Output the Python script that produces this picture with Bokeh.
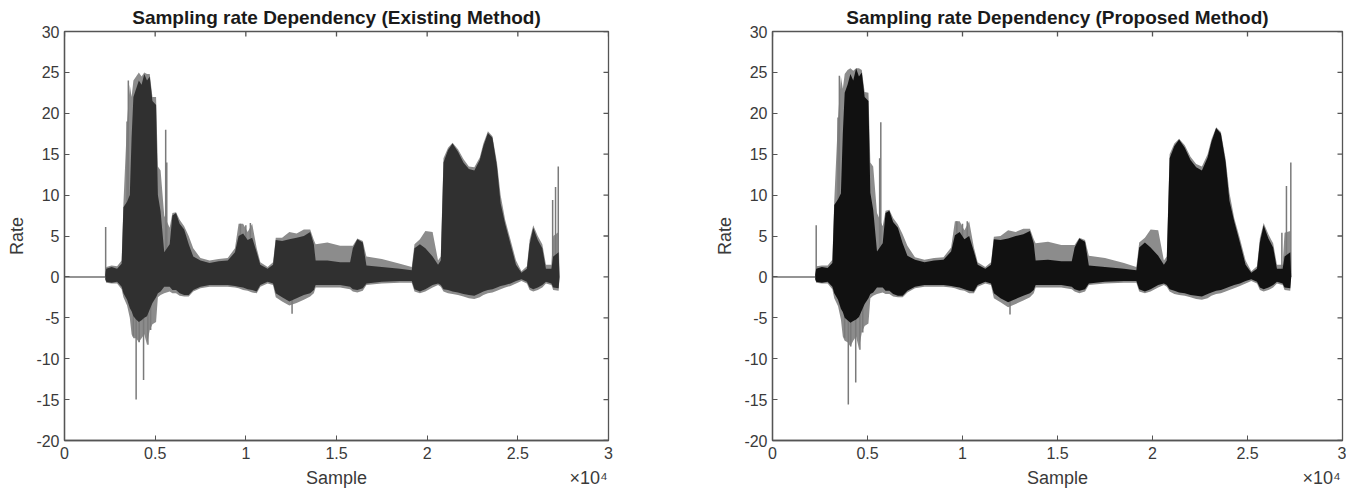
import math
from bokeh.plotting import figure
from bokeh.models import FixedTicker, LinearAxis, Range1d, Spacer
from bokeh.layouts import row
from bokeh.embed import file_html
from bokeh.resources import INLINE

# ---------------- data ----------------
env_x = [2250, 2300, 2600, 2900, 3150, 3250, 3450, 3600, 3700, 3800,
         3950, 4100, 4250, 4400, 4550, 4700, 4850, 5050, 5150, 5300,
         5500, 5800, 5950, 6150, 6350, 6600, 6850, 7100, 7500, 8000,
         8500, 9000, 9400, 9600, 9850, 10100, 10350, 10600, 10800, 11200,
         11500, 11650, 12000, 12400, 12800, 13200, 13550, 13750, 13850, 14500,
         15200, 15750, 15900, 16150, 16450, 16650, 17500, 18500, 19150, 19300,
         19600, 19900, 20300, 20600, 20750, 20900, 21150, 21400, 21700, 22000,
         22300, 22600, 22900, 23100, 23350, 23600, 23850, 24050, 24300, 24600,
         24900, 25200, 25500, 25650, 25850, 26100, 26350, 26550, 26850, 26950,
         27250, 27300]

# Existing method: dense core (upper / lower) and outer spikes (upper / lower)
ex_core_up = [0.3, 1.0, 1.2, 1.0, 1.6, 8.5, 9.2, 10.0, 17.0, 22.0,
              23.0, 24.0, 23.5, 24.8, 24.0, 24.5, 21.5, 21.0, 10.0, 8.0,
              3.0, 4.0, 7.5, 7.8, 6.5, 5.8, 4.0, 2.5, 2.0, 1.7,
              1.9, 2.0, 3.0, 5.0, 5.3, 4.5, 4.8, 3.0, 1.5, 1.0,
              1.5, 4.5, 4.4, 4.6, 4.8, 5.0, 5.5, 4.0, 2.0, 2.0,
              1.8, 1.8, 3.5, 4.6, 4.2, 1.4, 1.2, 1.0, 0.8, 3.5,
              4.0, 3.5, 2.5, 1.5, 2.0, 14.0, 15.5, 16.3, 15.3, 14.0,
              13.2, 13.0, 14.3, 16.0, 17.6, 17.0, 13.5, 9.0, 6.5, 4.0,
              1.5, 0.5, 1.0, 4.0, 6.0, 4.5, 3.5, 1.0, 1.0, 2.5,
              3.0, 0.0]
ex_core_lo = [-0.3, -0.6, -0.7, -0.6, -1.2, -2.0, -2.8, -3.8, -4.2, -4.8,
              -5.2, -5.5, -5.3, -5.0, -4.8, -4.0, -3.2, -2.5, -2.0, -1.8,
              -1.2, -1.2, -1.6, -1.6, -2.0, -2.2, -2.2, -1.6, -1.2, -1.0,
              -1.0, -1.0, -1.1, -1.2, -1.3, -1.5, -1.6, -1.8, -1.0, -0.6,
              -0.8, -2.0, -2.5, -3.0, -2.6, -2.2, -2.0, -1.6, -1.0, -1.0,
              -1.0, -1.2, -1.5, -1.6, -1.4, -0.8, -0.6, -0.5, -0.5, -1.5,
              -1.8, -1.5, -1.0, -0.8, -1.0, -1.5, -1.6, -1.8, -1.9, -2.1,
              -2.2, -2.3, -2.0, -1.8, -1.6, -1.5, -1.3, -1.1, -1.0, -0.8,
              -0.5, -0.3, -0.6, -1.3, -1.5, -1.3, -1.0, -0.6, -0.8, -1.3,
              -1.4, 0.0]
ex_outer_up = [0.3, 1.2, 1.4, 1.3, 2.0, 9.0, 19.0, 23.5, 22.0, 24.0,
               24.5, 25.0, 24.5, 25.0, 24.8, 24.8, 22.0, 22.0, 13.5, 13.0,
               7.5, 6.0, 7.8, 7.9, 7.0, 6.2, 5.0, 3.5, 2.3, 2.0,
               2.2, 2.3, 3.5, 6.5, 6.5, 5.5, 6.5, 3.5, 1.8, 1.2,
               1.8, 4.8, 4.8, 5.5, 5.3, 5.8, 5.8, 4.5, 4.0, 4.2,
               3.8, 3.8, 3.8, 4.7, 4.4, 2.5, 2.2, 1.6, 1.2, 4.0,
               4.6, 5.6, 5.5, 2.0, 2.5, 14.5, 15.8, 16.4, 15.6, 14.4,
               13.5, 13.4, 14.6, 16.3, 17.8, 17.2, 14.0, 10.0, 7.0, 4.5,
               2.0, 0.7, 1.3, 4.5, 6.3, 5.0, 4.0, 1.5, 1.5, 5.0,
               5.5, 0.0]
ex_outer_lo = [-0.3, -0.7, -0.8, -0.8, -1.5, -2.5, -3.5, -5.0, -7.0, -7.5,
               -7.5, -8.0, -7.5, -7.0, -8.3, -6.5, -5.8, -5.5, -2.5, -2.2,
               -2.0, -1.8, -2.0, -2.0, -2.3, -2.4, -2.4, -1.8, -1.4, -1.2,
               -1.2, -1.2, -1.3, -1.4, -1.6, -1.7, -1.9, -2.0, -1.2, -0.8,
               -1.0, -2.5, -3.0, -3.5, -3.2, -2.8, -2.4, -2.0, -1.3, -1.3,
               -1.3, -1.5, -1.8, -1.9, -1.7, -1.0, -0.8, -0.7, -0.7, -1.8,
               -2.0, -1.8, -1.3, -1.0, -1.2, -1.8, -2.0, -2.1, -2.2, -2.4,
               -2.6, -2.7, -2.5, -2.2, -2.0, -1.9, -1.7, -1.5, -1.3, -1.1,
               -0.8, -0.5, -0.8, -1.6, -1.8, -1.6, -1.3, -0.8, -1.0, -1.6,
               -1.7, 0.0]
ex_spike_x = [2270, 3450, 3520, 5580, 5640, 9700, 10000, 10250, 26920, 27080,
              27230, 3800, 3950, 4120, 4360, 4600, 4750, 12550]
ex_spike_v = [6.1, 19.0, 24.0, 18.0, 14.0, 6.5, 6.3, 6.6, 9.4, 11.0,
              13.5, -7.3, -15.0, -8.0, -12.6, -8.3, -6.5, -4.5]

# Proposed method
pr_core_up = [0.3, 1.0, 1.2, 1.1, 1.7, 8.8, 9.5, 10.2, 17.5, 22.5,
              23.5, 24.8, 24.0, 25.5, 24.5, 25.0, 22.0, 21.5, 10.3, 8.2,
              3.1, 4.1, 7.8, 8.1, 6.7, 6.0, 4.1, 2.6, 2.1, 1.8,
              2.0, 2.1, 3.1, 5.1, 5.5, 4.6, 5.0, 3.1, 1.5, 1.0,
              1.5, 4.6, 4.5, 4.7, 5.0, 5.2, 5.6, 4.1, 2.0, 2.1,
              1.9, 1.9, 3.6, 4.7, 4.3, 1.4, 1.2, 1.0, 0.8, 3.6,
              4.2, 3.6, 2.6, 1.5, 2.0, 14.5, 16.0, 16.8, 15.8, 14.3,
              13.4, 13.0, 14.6, 16.5, 18.2, 17.5, 14.0, 9.3, 6.8, 4.2,
              1.5, 0.5, 1.0, 4.2, 6.3, 4.7, 3.6, 1.0, 1.0, 2.5,
              3.0, 0.0]
pr_core_lo = [-0.3, -0.6, -0.7, -0.6, -1.2, -2.0, -2.8, -3.9, -4.3, -5.0,
              -5.3, -5.6, -5.4, -5.2, -4.9, -4.1, -3.3, -2.6, -2.1, -1.9,
              -1.3, -1.3, -1.7, -1.7, -2.1, -2.3, -2.3, -1.7, -1.2, -1.0,
              -1.0, -1.0, -1.1, -1.2, -1.3, -1.5, -1.7, -1.8, -1.0, -0.6,
              -0.8, -2.0, -2.6, -3.1, -2.7, -2.3, -2.0, -1.6, -1.0, -1.0,
              -1.0, -1.2, -1.5, -1.7, -1.5, -0.8, -0.6, -0.5, -0.5, -1.5,
              -1.8, -1.5, -1.0, -0.8, -1.0, -1.5, -1.7, -1.9, -2.0, -2.2,
              -2.3, -2.4, -2.1, -1.9, -1.7, -1.6, -1.4, -1.2, -1.0, -0.8,
              -0.5, -0.3, -0.6, -1.3, -1.5, -1.3, -1.0, -0.6, -0.8, -1.3,
              -1.4, 0.0]
pr_outer_up = [0.3, 1.3, 1.4, 1.4, 2.1, 9.3, 19.5, 24.5, 23.0, 24.8,
               25.3, 25.5, 25.2, 25.5, 25.5, 25.3, 22.6, 22.5, 14.0, 13.5,
               7.8, 6.2, 8.1, 8.2, 7.2, 6.4, 5.2, 3.8, 2.4, 2.1,
               2.3, 2.4, 3.6, 6.8, 6.8, 5.7, 6.8, 3.6, 1.8, 1.2,
               1.8, 4.9, 5.0, 5.7, 5.5, 5.9, 5.9, 4.6, 4.1, 4.3,
               3.9, 3.9, 3.9, 4.8, 4.5, 2.6, 2.3, 1.7, 1.2, 4.2,
               4.8, 5.8, 5.7, 2.0, 2.5, 15.0, 16.3, 16.9, 16.1, 14.7,
               13.8, 13.5, 15.0, 16.8, 18.3, 17.7, 14.4, 10.3, 7.2, 4.7,
               2.0, 0.7, 1.3, 4.7, 6.6, 5.2, 4.1, 1.5, 1.5, 5.4,
               5.6, 0.0]
pr_outer_lo = [-0.3, -0.7, -0.8, -0.8, -1.5, -2.6, -3.6, -5.2, -7.3, -7.8,
               -8.0, -8.5, -7.8, -7.3, -8.8, -6.8, -6.0, -5.7, -2.6, -2.3,
               -2.1, -1.9, -2.1, -2.1, -2.4, -2.5, -2.5, -1.9, -1.4, -1.2,
               -1.2, -1.2, -1.3, -1.4, -1.6, -1.7, -2.0, -2.0, -1.2, -0.8,
               -1.0, -2.6, -3.1, -3.7, -3.3, -2.9, -2.5, -2.0, -1.3, -1.3,
               -1.3, -1.5, -1.8, -2.0, -1.8, -1.0, -0.8, -0.7, -0.7, -1.8,
               -2.0, -1.8, -1.3, -1.0, -1.2, -1.8, -2.1, -2.2, -2.3, -2.5,
               -2.7, -2.8, -2.6, -2.3, -2.1, -2.0, -1.8, -1.6, -1.4, -1.1,
               -0.8, -0.5, -0.8, -1.6, -1.8, -1.6, -1.3, -0.8, -1.0, -1.6,
               -1.7, 0.0]
pr_spike_x = [2300, 3450, 3520, 5700, 5640, 9700, 10000, 10250, 26810, 27050,
              27280, 3800, 3990, 4120, 4380, 4600, 4750, 12500]
pr_spike_v = [6.3, 19.5, 24.6, 18.9, 14.5, 6.8, 6.5, 6.8, 5.4, 11.1,
              14.0, -7.5, -15.6, -8.5, -12.9, -8.9, -6.8, -4.6]

silent_x = [0, 2250]
silent_y = [0.0, 0.0]

x_ticks = [0, 5000, 10000, 15000, 20000, 25000, 30000]
x_tick_labels = ["0", "0.5", "1", "1.5", "2", "2.5", "3"]
y_ticks = [-20, -15, -10, -5, 0, 5, 10, 15, 20, 25, 30]
y_tick_labels = ["-20", "-15", "-10", "-5", "0", "5", "10", "15", "20", "25", "30"]
# second row under the x axis: axis name (centred) and the exponent note (right)
x_note_pos = [15000, 28900]
x_note_text = ["Sample", "×10⁴"]

FONT = "Liberation Sans"
AX_COL = "#555555"
LBL_COL = "#3a3a3a"


def style_axis(ax):
    ax.major_tick_in = 5
    ax.major_tick_out = 0
    ax.minor_tick_line_color = None
    ax.axis_line_color = AX_COL
    ax.major_tick_line_color = AX_COL
    ax.axis_line_width = 1.3
    ax.major_label_text_font = FONT
    ax.major_label_text_font_size = "16px"
    ax.major_label_text_color = LBL_COL
    ax.axis_label_text_font = FONT
    ax.axis_label_text_font_size = "18px"
    ax.axis_label_text_font_style = "normal"
    ax.axis_label_text_color = LBL_COL


def make_plot(title, frame_w, core_up, core_lo, outer_up, outer_lo, sp_x, sp_v,
              core_col, right_border):
    p = figure(frame_width=frame_w, frame_height=409,
               x_range=Range1d(0, 30000), y_range=Range1d(-20, 30),
               output_backend="svg", toolbar_location=None,
               min_border_left=10, min_border_right=right_border,
               min_border_top=24, min_border_bottom=51,
               y_axis_label="Rate")
    p.title.text = title
    p.title.align = "center"
    p.title.text_font = FONT
    p.title.text_font_size = "19px"
    p.title.text_font_style = "bold"
    p.title.text_color = "#1a1a1a"
    p.title.offset = 0
    p.title.standoff = 8
    p.grid.visible = False
    p.outline_line_color = AX_COL
    p.outline_line_width = 1.3
    p.background_fill_color = "white"
    p.border_fill_color = "white"

    p.xaxis.ticker = FixedTicker(ticks=x_ticks)
    p.xaxis.major_label_overrides = dict(zip(x_ticks, x_tick_labels))
    p.yaxis.ticker = FixedTicker(ticks=y_ticks)
    p.yaxis.major_label_overrides = dict(zip(y_ticks, y_tick_labels))
    for ax in p.xaxis + p.yaxis:
        style_axis(ax)
    p.xaxis.major_label_standoff = 6
    p.yaxis.major_label_standoff = 5
    p.yaxis.axis_label_standoff = 6

    # second text row below the x axis: "Sample" and "x10^4"
    note = LinearAxis(ticker=FixedTicker(ticks=x_note_pos),
                      major_label_overrides=dict(zip(x_note_pos, x_note_text)))
    note.axis_line_color = None
    note.major_tick_line_color = None
    note.minor_tick_line_color = None
    note.major_tick_in = 0
    note.major_tick_out = 0
    note.major_label_standoff = 6
    note.major_label_text_font = FONT
    note.major_label_text_font_size = "18px"
    note.major_label_text_color = LBL_COL
    p.add_layout(note, "below")

    # inward ticks on the top and right edges (box on)
    p.ray(x=x_ticks, y=[30] * len(x_ticks), length=5, length_units="screen",
          angle=-math.pi / 2, line_color=AX_COL, line_width=1.3)
    p.ray(x=[30000] * len(y_ticks), y=y_ticks, length=5, length_units="screen",
          angle=math.pi, line_color=AX_COL, line_width=1.3)

    p.line(silent_x, silent_y, line_color="#707070", line_width=1.5)
    p.varea(x=env_x, y1=outer_lo, y2=outer_up, fill_color="#8c8c8c", fill_alpha=1.0)
    p.segment(x0=sp_x, y0=[0] * len(sp_x), x1=sp_x, y1=sp_v,
              line_color="#7a7a7a", line_width=1.5)
    p.varea(x=env_x, y1=core_lo, y2=core_up, fill_color=core_col, fill_alpha=1.0)
    return p


p1 = make_plot("Sampling rate Dependency (Existing Method)", 544,
               ex_core_up, ex_core_lo, ex_outer_up, ex_outer_lo,
               ex_spike_x, ex_spike_v, "#303030", 104)
p2 = make_plot("Sampling rate Dependency (Proposed Method)", 570,
               pr_core_up, pr_core_lo, pr_outer_up, pr_outer_lo,
               pr_spike_x, pr_spike_v, "#111111", 4)

layout = row(Spacer(width=4), p1, p2)
open("out.html", "w").write(file_html(layout, INLINE))
